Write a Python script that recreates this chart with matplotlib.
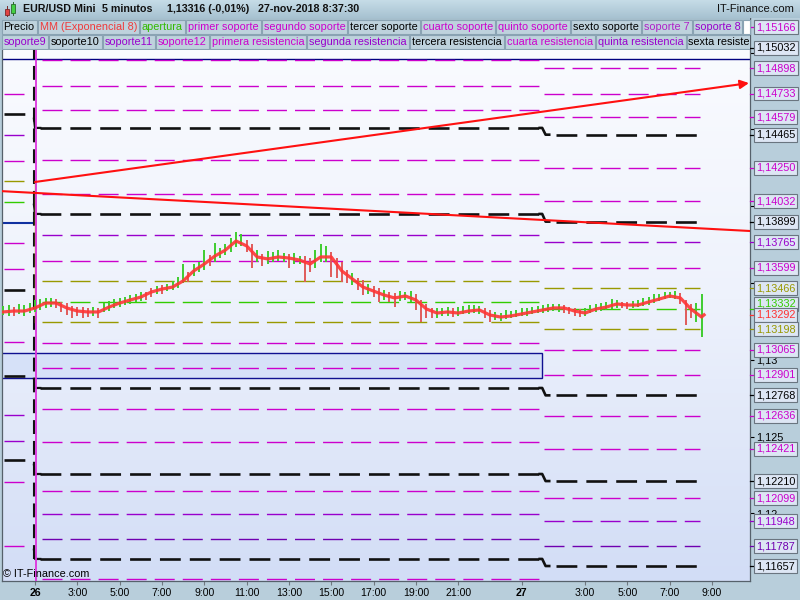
import numpy as np
import matplotlib.pyplot as plt
from matplotlib.patches import Rectangle
from matplotlib.ticker import FuncFormatter
from matplotlib.colors import LinearSegmentedColormap

plt.rcParams['font.family'] = ['Liberation Sans', 'DejaVu Sans']
plt.rcParams['lines.scale_dashes'] = False

# time axis in hours counted from 26-nov 00:00
tick_hours = [1, 3, 5, 7, 9, 11, 13, 15, 17, 19, 21, 24, 27, 29, 31, 33]
tick_labels = ['26', '3:00', '5:00', '7:00', '9:00', '11:00', '13:00', '15:00',
               '17:00', '19:00', '21:00', '27', '3:00', '5:00', '7:00', '9:00']

# price bars (15 min steps)
bar_hours = np.arange(-0.5, 32.51, 0.25)
bar_high = [1.13350, 1.13356, 1.13343, 1.13363, 1.13356, 1.13369,
            1.13389, 1.13395, 1.13402, 1.13402,
            1.13395, 1.13376, 1.13369, 1.13350,
            1.13343, 1.13343, 1.13337, 1.13343,
            1.13337, 1.13369, 1.13382, 1.13395,
            1.13402, 1.13408, 1.13421, 1.13428,
            1.13441, 1.13441, 1.13467, 1.13480,
            1.13487, 1.13493, 1.13513, 1.13539,
            1.13623, 1.13571, 1.13623, 1.13636,
            1.13714, 1.13682, 1.13760, 1.13727,
            1.13753, 1.13792, 1.13831, 1.13818,
            1.13779, 1.13753, 1.13714, 1.13688,
            1.13708, 1.13701, 1.13714, 1.13695,
            1.13688, 1.13695, 1.13675, 1.13675,
            1.13662, 1.13714, 1.13753, 1.13740,
            1.13701, 1.13662, 1.13636, 1.13584,
            1.13565, 1.13532, 1.13519, 1.13493,
            1.13480, 1.13467, 1.13454, 1.13441,
            1.13434, 1.13447, 1.13441, 1.13447,
            1.13428, 1.13389, 1.13363, 1.13337,
            1.13337, 1.13337, 1.13343, 1.13337,
            1.13343, 1.13350, 1.13356, 1.13356,
            1.13350, 1.13337, 1.13324, 1.13311,
            1.13304, 1.13324, 1.13317, 1.13324,
            1.13337, 1.13337, 1.13343, 1.13350,
            1.13356, 1.13363, 1.13363, 1.13363,
            1.13356, 1.13343, 1.13337, 1.13330,
            1.13337, 1.13356, 1.13363, 1.13369,
            1.13376, 1.13395, 1.13389, 1.13376,
            1.13376, 1.13382, 1.13389, 1.13402,
            1.13408, 1.13428, 1.13428, 1.13441,
            1.13441, 1.13447, 1.13434, 1.13389,
            1.13363, 1.13369, 1.13428]
bar_low = [1.13291, 1.13285, 1.13285, 1.13298, 1.13285, 1.13304,
           1.13311, 1.13324, 1.13337, 1.13343,
           1.13337, 1.13311, 1.13291, 1.13272,
           1.13285, 1.13272, 1.13278, 1.13285,
           1.13272, 1.13311, 1.13317, 1.13337,
           1.13343, 1.13356, 1.13363, 1.13376,
           1.13382, 1.13389, 1.13408, 1.13428,
           1.13428, 1.13447, 1.13454, 1.13467,
           1.13500, 1.13506, 1.13545, 1.13571,
           1.13584, 1.13610, 1.13636, 1.13662,
           1.13682, 1.13701, 1.13734, 1.13740,
           1.13701, 1.13597, 1.13636, 1.13610,
           1.13623, 1.13636, 1.13643, 1.13636,
           1.13597, 1.13623, 1.13623, 1.13506,
           1.13571, 1.13597, 1.13636, 1.13636,
           1.13539, 1.13532, 1.13506, 1.13500,
           1.13487, 1.13454, 1.13421, 1.13428,
           1.13408, 1.13376, 1.13389, 1.13376,
           1.13343, 1.13382, 1.13389, 1.13376,
           1.13324, 1.13246, 1.13272, 1.13272,
           1.13272, 1.13285, 1.13285, 1.13278,
           1.13285, 1.13298, 1.13298, 1.13304,
           1.13298, 1.13272, 1.13246, 1.13259,
           1.13252, 1.13265, 1.13272, 1.13278,
           1.13285, 1.13285, 1.13298, 1.13304,
           1.13304, 1.13311, 1.13317, 1.13311,
           1.13304, 1.13298, 1.13285, 1.13278,
           1.13285, 1.13304, 1.13311, 1.13317,
           1.13324, 1.13330, 1.13337, 1.13337,
           1.13330, 1.13337, 1.13343, 1.13350,
           1.13356, 1.13369, 1.13382, 1.13395,
           1.13402, 1.13395, 1.13363, 1.13226,
           1.13272, 1.13246, 1.13148]

# MM (Exponencial 8), every 30 min
ema_hours = list(np.arange(-0.5, 32.51, 0.5)) + [32.62]
ema = [1.13311, 1.13317, 1.13317,
       1.13337, 1.13369, 1.13369, 1.13337,
       1.13317, 1.13311, 1.13311, 1.13343,
       1.13369, 1.13389, 1.13408, 1.13441,
       1.13460, 1.13473, 1.13513, 1.13578,
       1.13623, 1.13675, 1.13714, 1.13773,
       1.13741, 1.13669, 1.13656, 1.13669,
       1.13662, 1.13649, 1.13623, 1.13669,
       1.13669, 1.13578, 1.13526, 1.13473,
       1.13447, 1.13421, 1.13402, 1.13415,
       1.13389, 1.13330, 1.13304, 1.13311,
       1.13304, 1.13317, 1.13324, 1.13291,
       1.13278, 1.13285, 1.13298, 1.13311,
       1.13324, 1.13337, 1.13337, 1.13317,
       1.13304, 1.13330, 1.13343, 1.13363,
       1.13356, 1.13356, 1.13376, 1.13395,
       1.13415, 1.13402, 1.13330, 1.13278,
       1.13292]
ema_last = 1.13292

# support / resistance levels of each session
prev_levels = [1.14730, 1.14600, 1.14463, 1.14294, 1.14163, 1.14027, 1.13760, 1.13591,
               1.13454, 1.13115, 1.12894, 1.12640, 1.12471, 1.12347, 1.12204, 1.11787]
prev_kinds = ['m', 'k', 'p', 'm', 'o', 'g', 'm', 'm', 'k', 'm', 'k', 'p', 'p', 'k', 'm', 'm']
d26_levels = [1.15212, 1.15083, 1.14951, 1.14782, 1.14626, 1.14509, 1.14300, 1.14079,
              1.13949, 1.13812, 1.13643, 1.13513, 1.13376, 1.13246, 1.13109, 1.12946,
              1.12816, 1.12679, 1.12464, 1.12256, 1.12145, 1.11996, 1.11833, 1.11703, 1.11573]
d26_kinds = ['m', 'k', 'm', 'm', 'm', 'k', 'm', 'm', 'k', 'p', 'm', 'o', 'g', 'o', 'm', 'm',
             'k', 'm', 'm', 'k', 'm', 'p', 'd', 'k', 'm']
d27_levels = [1.15166, 1.15032, 1.14898, 1.14733, 1.14579, 1.14465, 1.14250, 1.14032,
              1.13899, 1.13765, 1.13599, 1.13466, 1.13332, 1.13198, 1.13065, 1.12901,
              1.12768, 1.12636, 1.12421, 1.12210, 1.12099, 1.11948, 1.11787, 1.11657]
d27_kinds = ['m', 'k', 'm', 'm', 'm', 'k', 'm', 'm', 'k', 'p', 'm', 'o', 'g', 'o', 'm', 'm',
             'k', 'm', 'm', 'k', 'm', 'p', 'd', 'k']

# drawn objects
trend_up_h, trend_up_p = [1.0, 34.74], [1.14157, 1.14801]
trend_dn_h, trend_dn_p = [-0.65, 34.79], [1.14098, 1.13838]
box_h, box_p = [-0.7, 24.96], [1.12881, 1.13044]
hline_p = 1.14958
prev_blue_p = 1.13890

legend_row1 = [('Precio', 'k'), ('MM (Exponencial 8)', 'r'), ('apertura', 'g'),
               ('primer soporte', 'm'), ('segundo soporte', 'm'), ('tercer soporte', 'k'),
               ('cuarto soporte', 'm'), ('quinto soporte', 'm'), ('sexto soporte', 'k'),
               ('soporte 7', 's'), ('soporte 8', 'p')]
legend_row2 = [('soporte9', 'p'), ('soporte10', 'k'), ('soporte11', 'p'), ('soporte12', 'm'),
               ('primera resistencia', 'm'), ('segunda resistencia', 'p'),
               ('tercera resistencia', 'k'), ('cuarta resistencia', 'm'),
               ('quinta resistencia', 'p'), ('sexta resistencia', 'k')]

col = {'m': '#cc00cc', 'p': '#9900cc', 'd': '#7000b0', 's': '#b020c8', 'k': '#000000',
       'o': '#999900', 'g': '#33cc00', 'r': '#ff3030'}

fig = plt.figure(figsize=(8, 6), dpi=100, facecolor='#b8cedb')
ax = fig.add_axes([2 / 800, 19 / 600, 748 / 800, 563 / 600])
xlim = (-0.56, 34.79)
ylim = (1.115595, 1.152246)

# background gradient
bg = LinearSegmentedColormap.from_list('bg', ['#fbfcff', '#eef2fc', '#d2ddf6'])
ax.imshow(np.linspace(0, 1, 256).reshape(-1, 1), cmap=bg, aspect='auto',
          extent=(xlim[0], xlim[1], ylim[0], ylim[1]), zorder=0)

# blue box and horizontal line
ax.add_patch(Rectangle((box_h[0], box_p[0]), box_h[1] - box_h[0], box_p[1] - box_p[0],
                       fc='#d6e1f8', ec='#101090', lw=1, zorder=1))
ax.axhline(hline_p, color='#000080', lw=1, zorder=1.5)
ax.plot([xlim[0], 0.93], [prev_blue_p, prev_blue_p], color='#1030a0', lw=1.5, zorder=2)


def draw_levels(levels, kinds, h0, h1, hk=None):
    for p, k in zip(levels, kinds):
        if k == 'k':
            ax.plot([hk if hk else h0, h1], [p, p], color='#111111', lw=1.9,
                    dashes=(15, 6.5), zorder=3)
        else:
            ax.plot([h0, h1], [p, p], color=col[k], lw=1.0, dashes=(14.4, 5.8), zorder=2)


draw_levels(prev_levels, prev_kinds, xlim[0] + 0.1, 0.8)
draw_levels(d26_levels, d26_kinds, 1.35, 24.85, hk=1.25)
draw_levels(d27_levels, d27_kinds, 25.05, 32.45, hk=25.6)

# steps of the black levels between sessions
k26 = [p for p, k in zip(d26_levels, d26_kinds) if k == 'k']
k27 = [p for p, k in zip(d27_levels, d27_kinds) if k == 'k']
for p0, p1 in zip(k26, k27):
    ax.plot([24.85, 24.97, 25.13, 25.3], [p0, p0, p1, p1], color='#111111', lw=1.9, zorder=3)
for p in k26:
    ax.plot([0.95, 1.0, 1.25], [p + 0.0006, p, p], color='#111111', lw=1.6, zorder=3)

# session separator
ax.plot([0.93, 0.93], [min(k26), max(k26)], color='#111111', lw=1.5, dashes=(10, 5), zorder=3)
olive_prev = [p for p, k in zip(prev_levels, prev_kinds) if k == 'o']
olive_26 = [p for p, k in zip(d26_levels, d26_kinds) if k == 'o']
ax.plot([1.0, 1.0], [olive_prev[0], olive_26[-1]], color='#b8c800', lw=1, zorder=3)
ax.axvline(1.05, color='#dd33dd', lw=1.3, zorder=3.5)

# bars
ema_at = np.interp(bar_hours, ema_hours, ema)
for h, hi, lo, e in zip(bar_hours, bar_high, bar_low, ema_at):
    c = '#3fcc2f' if (hi + lo) / 2 >= e else '#e05a5a'
    ax.plot([h, h], [lo, hi], color=c, lw=1.4, zorder=4, solid_capstyle='butt')
ax.plot(ema_hours, ema, color='#ff3535', lw=2.3, alpha=0.9, zorder=5)

# trend lines
ax.plot(trend_dn_h, trend_dn_p, color='#ff1010', lw=1.5, zorder=6)
ax.annotate('', xy=(trend_up_h[1], trend_up_p[1]), xytext=(trend_up_h[0], trend_up_p[0]),
            arrowprops=dict(arrowstyle='-|>', color='#ff1010', lw=1.5, mutation_scale=13,
                            shrinkA=0, shrinkB=0), annotation_clip=False, zorder=6)

ax.text(0.002, 0.013, '\u00a9 IT-Finance.com', transform=ax.transAxes, va='center',
        ha='left', fontsize=7.8, color='black', zorder=7)

ax.set_xlim(xlim)
ax.set_ylim(ylim)
ax.set_xticks(tick_hours, tick_labels)
for lbl in ax.get_xticklabels():
    if lbl.get_text() in ('26', '27'):
        lbl.set_fontweight('bold')
ax.tick_params(axis='x', length=3, width=0.8, color='#707880', labelsize=7.6, pad=2)
ax.yaxis.tick_right()
# round price ticks; the others sit behind the level labels
ax.set_yticks([1.12, 1.125, 1.13])
ax.set_yticks([1.135, 1.14, 1.145, 1.15], minor=True)
ax.yaxis.set_major_formatter(FuncFormatter(lambda v, _: f'{v:.3f}'.rstrip('0').replace('.', ',')))
ax.tick_params(axis='y', which='both', length=3, width=0.8, color='black', labelsize=7.8, pad=1.5)
for s in ax.spines.values():
    s.set_color('#56616b')
    s.set_linewidth(0.9)

# value labels on the right
lab_vals = d27_levels[:13] + [ema_last] + d27_levels[13:]
lab_kinds = d27_kinds[:13] + ['r'] + d27_kinds[13:]
ytr = ax.get_yaxis_transform()
for i, (v, k) in enumerate(zip(lab_vals, lab_kinds)):
    dy = 3.6 if k == 'g' else 0
    ax.plot([1, 1 + 5 / 748], [v, v], transform=ytr, color=col[k], lw=0.9,
            clip_on=False, zorder=8)
    ax.annotate(f'{v:.5f}'.replace('.', ','), xy=(1, v), xycoords=ytr,
                xytext=(4.4, dy), textcoords='offset points', ha='left', va='center',
                fontsize=7.8, color=col[k], annotation_clip=False, zorder=9 + i * 0.01,
                bbox=dict(boxstyle='square,pad=0.18', fc='#dde6f4', ec='#6a7580', lw=0.8))

# header and legend rows
top = fig.add_axes([0, 1 - 50 / 600, 1, 50 / 600])
top.set_xlim(0, 800)
top.set_ylim(50, 0)
top.axis('off')
hdr = LinearSegmentedColormap.from_list('hdr', ['#c6dce7', '#a7c2d1'])
top.imshow(np.linspace(0, 1, 64).reshape(-1, 1), cmap=hdr, aspect='auto',
           extent=(0, 800, 18, 0), zorder=0)
top.add_patch(Rectangle((0, 18), 750, 32, fc='#a6bfcd', ec='none', zorder=1))
top.add_patch(Rectangle((4.5, 8.5), 4, 6, fc='#e04444', ec='#7a2a2a', lw=0.6, zorder=2))
top.plot([6.5, 6.5], [6, 16], color='#7a2a2a', lw=0.7, zorder=1.9)
top.add_patch(Rectangle((11, 4), 4, 8.5, fc='#44d044', ec='#2a6a2a', lw=0.6, zorder=2))
top.plot([13, 13], [1.5, 14.5], color='#2a6a2a', lw=0.7, zorder=1.9)
head = [(23, 'EUR/USD Mini'), (102, '5 minutos'), (167, '1,13316 (-0,01%)'),
        (258, '27-nov-2018 8:37:30')]
for x, t in head:
    top.text(x, 9.5, t, fontsize=7.7, fontweight='bold', va='center', ha='left', color='#111111')
top.text(794, 9.5, 'IT-Finance.com', fontsize=8, va='center', ha='right', color='#111111')

clip = Rectangle((0, 0), 750, 50, transform=top.transData)
renderer = fig.canvas.get_renderer()
leg_col = dict(col, r='#f03a3a', g='#33bb00')
for items, y0, y1 in [(legend_row1, 20, 33.5), (legend_row2, 35, 48.5)]:
    x = 1.5
    for txt, k in items:
        t = top.text(x + 2, (y0 + y1) / 2 + 0.3, txt, color=leg_col[k], fontsize=7.8,
                     va='center', ha='left', zorder=4, clip_on=True)
        t.set_clip_path(clip)
        w = t.get_window_extent(renderer).width
        r = Rectangle((x, y0), w + 4, y1 - y0, fc='#bed2dd', ec='#8aa3b3', lw=0.8, zorder=3)
        top.add_patch(r)
        r.set_clip_path(clip)
        x += w + 5
    if items is legend_row1:
        top.add_patch(Rectangle((x, y0), 750 - x, y1 - y0, fc='white', ec='#8aa3b3',
                                lw=0.8, zorder=3))

fig.savefig('out.png', dpi=100)
